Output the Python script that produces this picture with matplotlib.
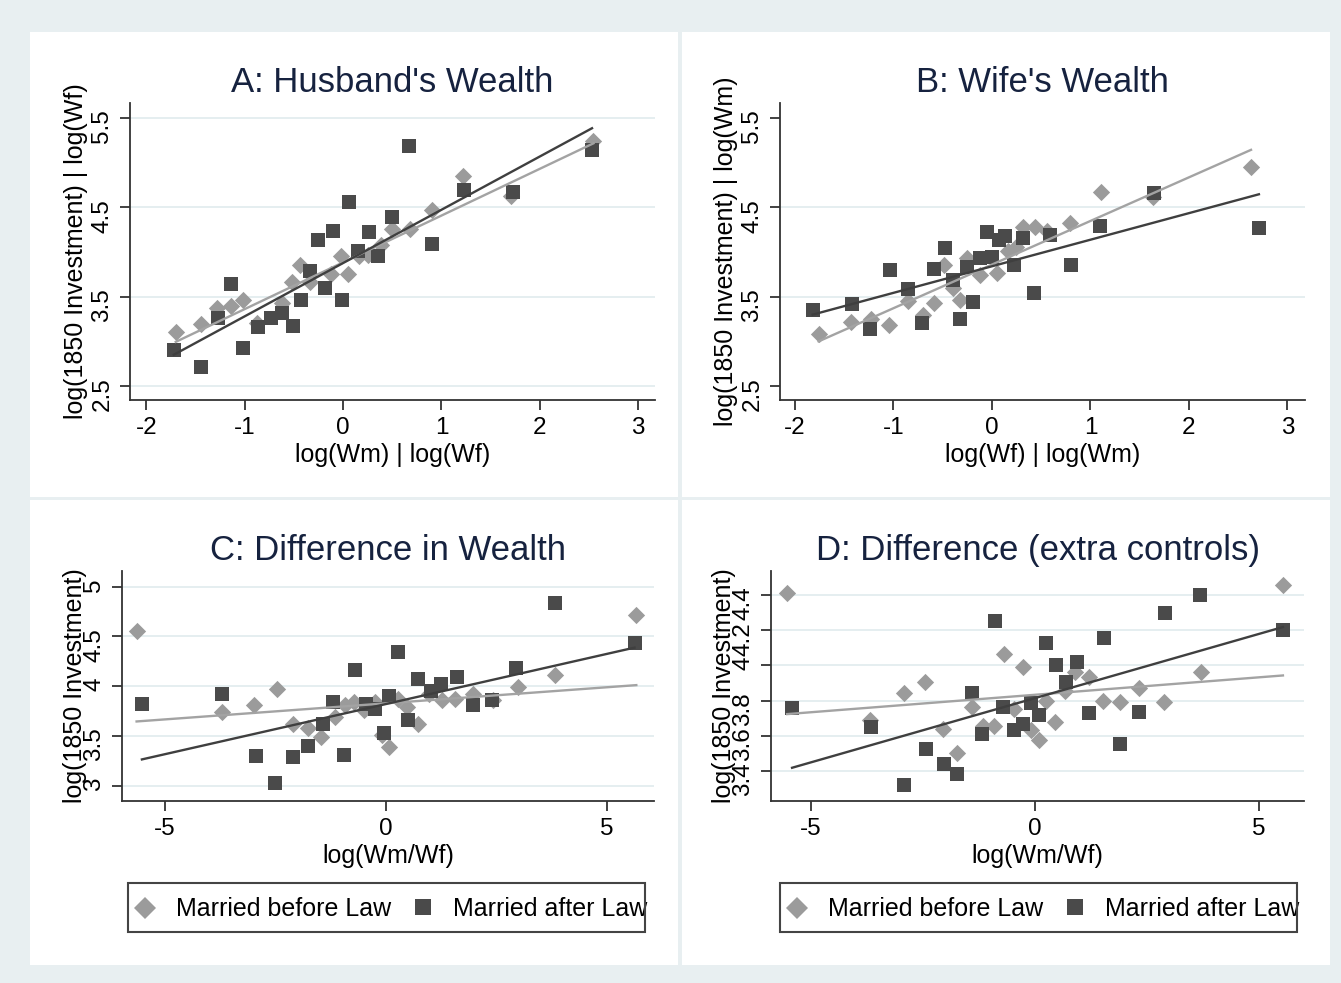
import numpy as np
import matplotlib
matplotlib.use("Agg")
import matplotlib.pyplot as plt
from matplotlib.patches import Rectangle
from matplotlib.lines import Line2D

plt.rcParams['font.family'] = ['Liberation Sans', 'DejaVu Sans']
plt.rcParams['axes.unicode_minus'] = False

# ---- Panel A: husband's wealth ----
a_before_x = [-1.70, -1.445, -1.28, -1.14, -1.02, -0.87, -0.62, -0.52, -0.44, -0.34, -0.12,
              -0.02, 0.055, 0.16, 0.25, 0.39, 0.50, 0.68, 0.90, 1.22, 1.71, 2.545]
a_before_y = [3.11, 3.19, 3.37, 3.40, 3.46, 3.20, 3.43, 3.66, 3.86, 3.66, 3.75,
              3.96, 3.75, 3.96, 3.97, 4.08, 4.26, 4.26, 4.47, 4.85, 4.63, 5.24]
a_after_x = [-1.72, -1.44, -1.27, -1.14, -1.02, -0.86, -0.73, -0.62, -0.51, -0.425, -0.335,
             -0.25, -0.18, -0.10, -0.015, 0.06, 0.155, 0.26, 0.36, 0.50, 0.67, 0.90,
             1.23, 1.73, 2.53]
a_after_y = [2.90, 2.71, 3.26, 3.64, 2.93, 3.16, 3.26, 3.32, 3.17, 3.46, 3.79,
             4.13, 3.60, 4.24, 3.46, 4.56, 4.01, 4.22, 3.96, 4.39, 5.19, 4.09,
             4.69, 4.67, 5.14]
a_before_fit = (3.885, 0.524)   # intercept, slope
a_after_fit = (3.877, 0.597)

# ---- Panel B: wife's wealth ----
b_before_x = [-1.76, -1.43, -1.23, -1.05, -0.85, -0.70, -0.59, -0.49, -0.40, -0.32, -0.25,
              -0.125, 0.056, 0.165, 0.24, 0.32, 0.44, 0.56, 0.79, 1.11, 1.63, 2.63]
b_before_y = [3.08, 3.22, 3.25, 3.18, 3.45, 3.30, 3.43, 3.86, 3.60, 3.46, 3.93,
              3.74, 3.77, 4.01, 4.06, 4.28, 4.28, 4.24, 4.33, 4.67, 4.62, 4.95]
b_after_x = [-1.82, -1.42, -1.24, -1.04, -0.856, -0.71, -0.59, -0.48, -0.40, -0.32, -0.25,
             -0.197, -0.125, -0.05, 0.00, 0.075, 0.13, 0.22, 0.31, 0.43, 0.59, 0.80,
             1.10, 1.64, 2.71]
b_after_y = [3.355, 3.42, 3.14, 3.80, 3.59, 3.20, 3.81, 4.05, 3.69, 3.25, 3.83,
             3.44, 3.93, 4.22, 3.95, 4.14, 4.18, 3.85, 4.16, 3.54, 4.19, 3.86,
             4.29, 4.66, 4.27]
b_before_fit = (3.860, 0.4887)
b_after_fit = (3.841, 0.2976)

# ---- Panel C: difference in wealth ----
c_before_x = [-5.64, -3.72, -2.985, -2.47, -2.10, -1.76, -1.465, -1.16, -0.93, -0.73, -0.49,
              -0.25, -0.095, 0.063, 0.26, 0.48, 0.72, 0.974, 1.275, 1.57, 1.96, 2.41,
              2.98, 3.82, 5.66]
c_before_y = [4.557, 3.74, 3.807, 3.973, 3.617, 3.583, 3.49, 3.69, 3.807, 3.84, 3.757,
              3.84, 3.507, 3.39, 3.873, 3.79, 3.617, 3.923, 3.863, 3.873, 3.917, 3.857,
              3.99, 4.117, 4.713]
c_after_x = [-5.52, -3.70, -2.945, -2.51, -2.11, -1.77, -1.425, -1.20, -0.94, -0.69, -0.45,
             -0.25, -0.055, 0.063, 0.26, 0.50, 0.72, 1.01, 1.25, 1.61, 1.96, 2.40,
             2.95, 3.82, 5.62]
c_after_y = [3.817, 3.923, 3.297, 3.023, 3.29, 3.397, 3.623, 3.84, 3.307, 4.163, 3.817,
             3.773, 3.53, 3.897, 4.347, 3.657, 4.073, 3.95, 4.023, 4.09, 3.807, 3.863,
             4.183, 4.84, 4.433]
c_before_fit = (3.828, 0.0323)
c_after_fit = (3.821, 0.1008)

# ---- Panel D: difference with extra controls ----
d_before_x = [-5.53, -3.69, -2.93, -2.45, -2.05, -1.73, -1.41, -1.165, -0.92, -0.70, -0.48,
              -0.265, -0.08, 0.08, 0.24, 0.44, 0.67, 0.90, 1.205, 1.526, 1.89, 2.31,
              2.875, 3.71, 5.53]
d_before_y = [4.411, 3.687, 3.844, 3.905, 3.64, 3.502, 3.763, 3.655, 3.655, 4.065, 3.75,
              3.994, 3.63, 3.574, 3.80, 3.678, 3.857, 3.961, 3.937, 3.80, 3.791, 3.873,
              3.791, 3.961, 4.457]
d_after_x = [-5.42, -3.655, -2.93, -2.43, -2.02, -1.73, -1.41, -1.18, -0.90, -0.71, -0.48,
             -0.265, -0.08, 0.08, 0.24, 0.466, 0.683, 0.94, 1.205, 1.54, 1.90, 2.33,
             2.89, 3.68, 5.53]
d_after_y = [3.757, 3.65, 3.319, 3.523, 3.438, 3.379, 3.842, 3.61, 4.254, 3.763, 3.634,
             3.668, 3.786, 3.716, 4.128, 4.0, 3.905, 4.019, 3.729, 4.154, 3.551, 3.735,
             4.298, 4.40, 4.20]
d_before_fit = (3.833, 0.0199)
d_after_fit = (3.814, 0.0732)

W, H = 1341, 983
BG = '#e8eff1'
GRID = '#e3edef'
LIGHT = '#9b9b9b'
DARK = '#4a4a4a'
TITLE_C = '#16223f'


def fx(x):
    return x / W


def fy(y):
    return 1 - y / H


def box(x0, y0, x1, y1):
    # pixel box -> figure fraction [left, bottom, width, height]
    return [fx(x0), fy(y1), (x1 - x0) / W, (y1 - y0) / H]


fig = plt.figure(figsize=(W / 100, H / 100), dpi=100, facecolor=BG)

# white panel backgrounds with thin gaps between them
for x0, y0, x1, y1 in [(30, 32, 678, 497), (682, 32, 1330, 497),
                       (30, 500, 678, 965), (682, 500, 1330, 965)]:
    fig.patches.append(Rectangle((fx(x0), fy(y1)), (x1 - x0) / W, (y1 - y0) / H,
                                 transform=fig.transFigure, facecolor='white',
                                 edgecolor='none', zorder=-10))


def panel(rect, title, xlabel, ylabel, bx, by, ax_, ay, bfit, afit,
          xlim, ylim, xticks, yticks, gridticks, ylabel_px, ytick_labels=None):
    ax = fig.add_axes(box(*rect))
    ax.set_facecolor('white')
    for yv in gridticks:
        ax.axhline(yv, color=GRID, lw=1.3, zorder=0)
    ax.scatter(bx, by, marker='D', s=8.8 ** 2, color=LIGHT, linewidths=0, zorder=2)
    ax.scatter(ax_, ay, marker='s', s=10.2 ** 2, color=DARK, linewidths=0, zorder=3)
    for xs, fit, col in [(bx, bfit, '#a3a3a3'), (ax_, afit, '#3f3f3f')]:
        xx = np.array([min(xs), max(xs)])
        ax.plot(xx, fit[0] + fit[1] * xx, color=col, lw=1.7, zorder=4)
    ax.set_xlim(*xlim)
    ax.set_ylim(*ylim)
    ax.set_xticks(xticks)
    ax.set_yticks(yticks)
    if ytick_labels is not None:
        ax.set_yticklabels(ytick_labels)
    for s in ['top', 'right']:
        ax.spines[s].set_visible(False)
    for s in ['left', 'bottom']:
        ax.spines[s].set_color('#333333')
        ax.spines[s].set_linewidth(1.3)
    ax.tick_params(axis='both', length=7, width=1.3, color='#333333',
                   labelsize=17.5, pad=5)
    ax.tick_params(axis='y', labelrotation=90)
    ax.set_title(title, fontsize=25, color=TITLE_C, pad=8)
    ax.set_xlabel(xlabel, fontsize=18, labelpad=3)
    ax.set_ylabel(ylabel, fontsize=18)
    ax.yaxis.set_label_coords((ylabel_px - rect[0]) / (rect[2] - rect[0]), 0.5)
    return ax


panel((130, 103, 655, 400), "A: Husband's Wealth", 'log(Wm) | log(Wf)',
      'log(1850 Investment) | log(Wf)', a_before_x, a_before_y, a_after_x, a_after_y,
      a_before_fit, a_after_fit, (-2.165, 3.17), (2.343, 5.67),
      [-2, -1, 0, 1, 2, 3], [2.5, 3.5, 4.5, 5.5], [2.5, 3.5, 4.5, 5.5], 88)

panel((780, 103, 1305, 400), "B: Wife's Wealth", 'log(Wf) | log(Wm)',
      'log(1850 Investment) | log(Wm)', b_before_x, b_before_y, b_after_x, b_after_y,
      b_before_fit, b_after_fit, (-2.152, 3.178), (2.343, 5.67),
      [-2, -1, 0, 1, 2, 3], [2.5, 3.5, 4.5, 5.5], [3.5, 4.5], 738)

panel((122, 571, 654, 801), 'C: Difference in Wealth', 'log(Wm/Wf)',
      'log(1850 Investment)', c_before_x, c_before_y, c_after_x, c_after_y,
      c_before_fit, c_after_fit, (-5.97, 6.06), (2.847, 5.157),
      [-5, 0, 5], [3, 3.5, 4, 4.5, 5], [3, 3.5, 4, 4.5, 5], 87,
      ['3', '3.5', '4', '4.5', '5'])

panel((771, 571, 1304, 801), 'D: Difference (extra controls)', 'log(Wm/Wf)',
      'log(1850 Investment)', d_before_x, d_before_y, d_after_x, d_after_y,
      d_before_fit, d_after_fit, (-5.89, 6.0), (3.228, 4.538),
      [-5, 0, 5], [3.4, 3.6, 3.8, 4.0, 4.2, 4.4], [3.4, 3.6, 3.8, 4.0, 4.2, 4.4], 736,
      ['3.4', '3.6', '3.8', '4', '4.2', '4.4'])

# legend boxes under the two bottom panels
for x0 in [128, 780]:
    fig.patches.append(Rectangle((fx(x0), fy(932)), 517 / W, 49 / H,
                                 transform=fig.transFigure, facecolor='none',
                                 edgecolor='#444444', lw=1.5, zorder=5))
    fig.lines.append(Line2D([fx(x0 + 17)], [fy(908)], transform=fig.transFigure,
                            marker='D', ms=11, color=LIGHT, mew=0, ls='none'))
    fig.text(fx(x0 + 48), fy(909), 'Married before Law', fontsize=18,
             va='center', ha='left')
    fig.lines.append(Line2D([fx(x0 + 295)], [fy(907)], transform=fig.transFigure,
                            marker='s', ms=11, color=DARK, mew=0, ls='none'))
    fig.text(fx(x0 + 325), fy(909), 'Married after Law', fontsize=18,
             va='center', ha='left')

fig.savefig('out.png', dpi=100, facecolor=BG)
